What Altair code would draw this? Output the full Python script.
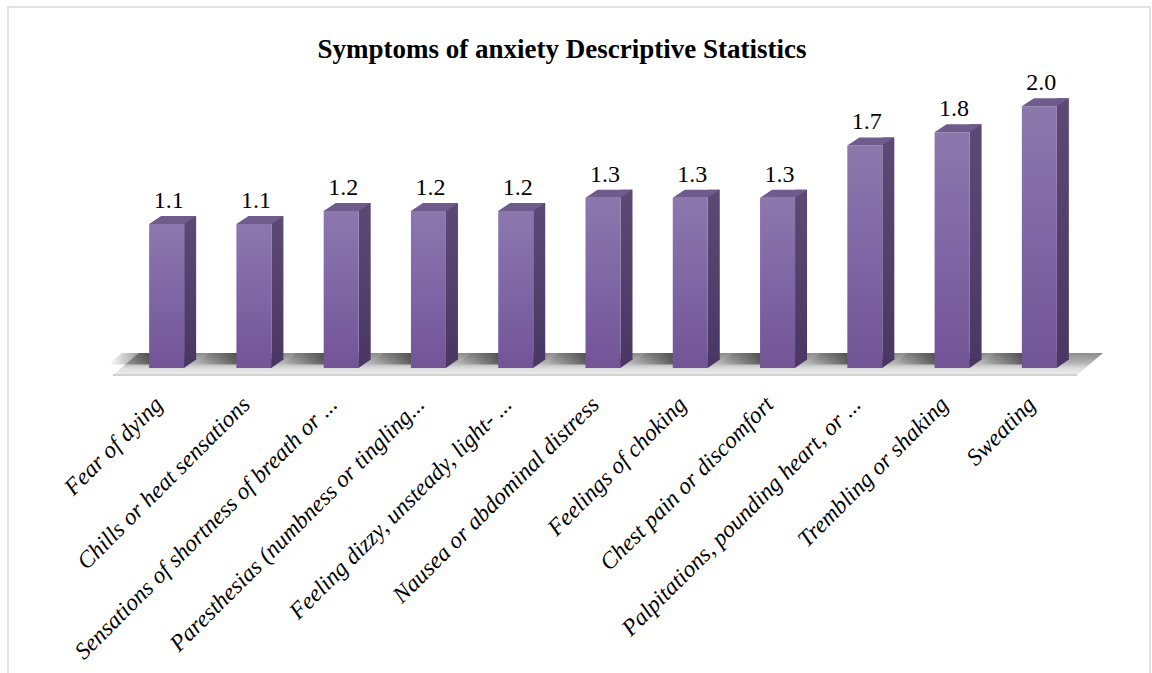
import altair as alt
import pandas as pd

# Symptom labels (as shortened on the axis) and their mean scores
categories = [
    "Fear of dying",
    "Chills or heat sensations",
    "Sensations of shortness of breath or ...",
    "Paresthesias (numbness or tingling...",
    "Feeling dizzy, unsteady, light- ...",
    "Nausea or abdominal distress",
    "Feelings of choking",
    "Chest pain or discomfort",
    "Palpitations, pounding heart, or ...",
    "Trembling or shaking",
    "Sweating",
]
values = [1.1, 1.1, 1.2, 1.2, 1.2, 1.3, 1.3, 1.3, 1.7, 1.8, 2.0]

title_text = "Symptoms of anxiety Descriptive Statistics"

df = pd.DataFrame({"symptom": categories, "score": values})
df["baseline"] = 0.0
one = pd.DataFrame({"title": [title_text]})

SERIF = "Liberation Serif"

x_enc = alt.X(
    "symptom:N",
    sort=categories,
    scale=alt.Scale(paddingInner=0, paddingOuter=0),
    axis=alt.Axis(
        title=None,
        labelAngle=315,
        labelAlign="right",
        labelBaseline="top",
        labelFont=SERIF,
        labelFontStyle="italic",
        labelFontSize=23.5,
        labelColor="#000000",
        labelLimit=500,
        labelPadding=24,
        labelOffset=-16,
        labelOverlap=False,
        domain=False,
        ticks=False,
        tickSize=0,
        grid=False,
    ),
)
y_scale = alt.Scale(domain=[0, 2.2], nice=False, zero=True)
y_enc = alt.Y("score:Q", scale=y_scale, axis=None)
y_base = alt.Y("baseline:Q", scale=y_scale, axis=None)


def vgrad(stops):
    return alt.Gradient(
        gradient="linear",
        stops=[alt.GradientStop(color=c, offset=o) for o, c in stops],
        x1=0, x2=0, y1=0, y2=1,
    )


def hgrad(stops):
    return alt.Gradient(
        gradient="linear",
        stops=[alt.GradientStop(color=c, offset=o) for o, c in stops],
        x1=0, x2=1, y1=0, y2=0,
    )


base = alt.Chart(df)

# outer frame of the figure
frame = alt.Chart(one).mark_rect(
    fillOpacity=0, stroke="#d9d9d9", strokeWidth=1.5
).encode(
    x=alt.value(-115), x2=alt.value(1027), y=alt.value(-73), y2=alt.value(640)
)

# chart heading
heading = alt.Chart(one).mark_text(
    font=SERIF, fontSize=27, fontWeight="bold", color="#000000",
    align="center", baseline="alphabetic",
).encode(x=alt.value(439), y=alt.value(-22), text="title:N")

# floor plane under the columns (centred on the plot, at the baseline)
floor = alt.Chart(one).mark_point(
    shape="M -4.90 0.07 L 4.74 0.07 L 5.00 -0.15 L -4.64 -0.15 Z",
    size=40000,
    filled=True,
    opacity=1,
    strokeWidth=0,
    fill=vgrad([(0, "#8c8c8c"), (0.45, "#b4b4b4"), (0.7, "#dedede"), (1, "#ececec")]),
).encode(x=alt.value(480), y=alt.value(288))

floor_line = alt.Chart(one).mark_rule(color="#d2d2d2", strokeWidth=2).encode(
    x=alt.value(-10), x2=alt.value(954), y=alt.value(295)
)

# shadow cast on the floor to the left of each column
shadow = base.mark_point(
    shape="M -5.8 -0.35 L -1.75 -0.35 L -0.45 -1.5 L -4.5 -1.5 Z",
    size=400,
    filled=True,
    opacity=1,
    strokeWidth=0,
    fill=hgrad([(0, "rgba(70,70,70,0)"), (0.6, "rgba(60,60,60,0.55)"), (1, "rgba(45,45,45,0.9)")]),
).encode(x=x_enc, y=y_base)

# side faces of the columns
side = base.mark_bar(
    size=12,
    xOffset=23.5,
    yOffset=-8,
    y2Offset=-8,
    fill=vgrad([(0, "#5c4976"), (1, "#4a3763")]),
).encode(x=x_enc, y=y_enc)

side_bottom = base.mark_point(
    shape="M 1.70 -0.85 L 2.95 -0.85 L 1.70 0.02 Z",
    size=400,
    filled=True,
    opacity=1,
    strokeWidth=0,
    fill="#4a3763",
).encode(x=x_enc, y=y_base)

# front faces of the columns
front = base.mark_bar(
    size=35,
    fill=vgrad([(0, "#8c78ad"), (0.5, "#7f66a4"), (1, "#725497")]),
).encode(x=x_enc, y=y_enc)

# top faces of the columns
top = base.mark_point(
    shape="M -1.75 0 L 1.75 0 L 2.95 -0.8 L -0.55 -0.8 Z",
    size=400,
    filled=True,
    opacity=1,
    strokeWidth=0,
    fill="#6f5b8c",
).encode(x=x_enc, y=y_enc)

labels = base.mark_text(
    font=SERIF, fontSize=24, color="#000000", dy=-16, dx=2, baseline="alphabetic"
).encode(x=x_enc, y=y_enc, text=alt.Text("score:Q", format=".1f"))

chart = (
    alt.layer(frame, heading, floor, floor_line, shadow, side, side_bottom, front, top, labels)
    .properties(
        width=960,
        height=288,
        padding={"left": 123, "top": 80, "right": 69, "bottom": 305},
        autosize=alt.AutoSizeParams(type="none"),
        background="#ffffff",
    )
    .configure_view(stroke=None)
)

chart.save("out.html", embed_options={"renderer": "svg", "actions": False})
